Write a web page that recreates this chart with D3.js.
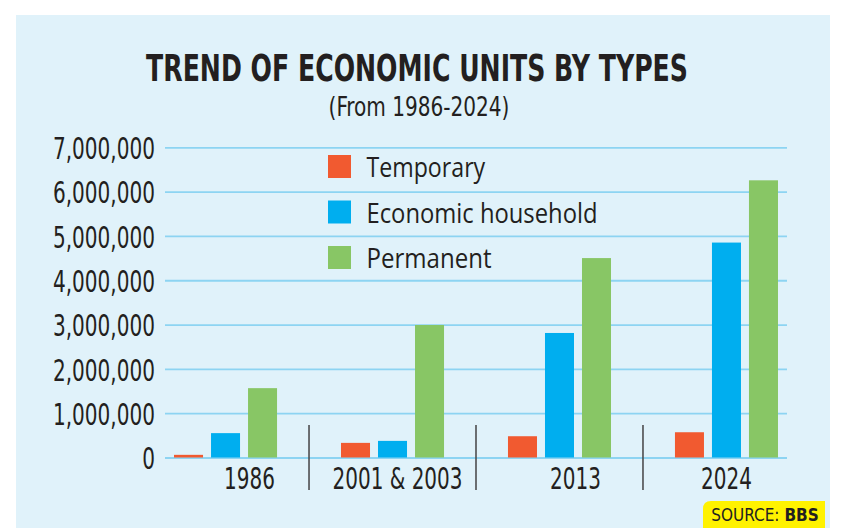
<!DOCTYPE html>
<html><head><meta charset="utf-8">
<script src="https://cdn.jsdelivr.net/npm/d3@7"></script>
<style>
html,body{margin:0;padding:0;background:#fff;}
svg{display:block;}
</style></head>
<body>
<svg id="chart" width="858" height="528"></svg>
<script>
// ---- data ----
const categories = ["1986", "2001 & 2003", "2013", "2024"];
const seriesNames = ["Temporary", "Economic household", "Permanent"];
const temporary = [60000, 330000, 480000, 570000];
const economicHousehold = [550000, 375000, 2810000, 4850000];
const permanent = [1565000, 2990000, 4500000, 6255000];
const yTicks = [0, 1000000, 2000000, 3000000, 4000000, 5000000, 6000000, 7000000];
const title = "TREND OF ECONOMIC UNITS BY TYPES";
const subtitle = "(From 1986-2024)";
const sourceLabel = "SOURCE: ";
const sourceName = "BBS";

// ---- style / layout ----
const colors = ["#f15a30", "#00aeef", "#88c665"];
const NARROW = "'Liberation Sans Narrow','DejaVu Sans Condensed','Roboto Condensed','Roboto',sans-serif";
const TXT = "#231f20";
const labelDx = [24, 5, 16, 0];

const svg = d3.select("#chart");
svg.append("rect").attr("x", 16).attr("y", 15).attr("width", 814).attr("height", 513).attr("fill", "#e0f2fa");

// condense a group of texts by a common factor so that the widest one reaches targetWidth
function condenseTo(sel, targetWidth) {
  let maxW = 0;
  sel.each(function () { maxW = Math.max(maxW, this.getComputedTextLength()); });
  const f = Math.min(1, targetWidth / maxW);
  sel.each(function () {
    const w = this.getComputedTextLength();
    d3.select(this).attr("textLength", w * f).attr("lengthAdjust", "spacingAndGlyphs");
  });
}
// fit a text to a width by shrinking its font and stretching it vertically back to the wanted size
function fitTall(sel, cx, baseY, size, targetWidth) {
  sel.attr("font-size", size);
  const w = sel.node().getComputedTextLength();
  const f = Math.min(1, targetWidth / w);
  sel.attr("font-size", size * f).attr("x", 0).attr("y", 0)
    .attr("transform", `translate(${cx},${baseY}) scale(1,${1 / f})`);
}

// title
svg.append("text").attr("text-anchor", "middle")
  .attr("font-family", NARROW).attr("font-weight", "bold")
  .attr("fill", TXT).text(title)
  .call(fitTall, 417, 81, 37, 542);
svg.append("text").attr("text-anchor", "middle")
  .attr("font-family", NARROW)
  .attr("fill", TXT).text(subtitle)
  .call(fitTall, 419, 116, 27, 181);

// scales
const x = d3.scaleBand().domain(categories).range([165, 787]).paddingInner(0.383).paddingOuter(0.054);
const xs = d3.scaleBand().domain(seriesNames).range([0, x.bandwidth()]).paddingInner(0.216).paddingOuter(0);
const y = d3.scaleLinear().domain([0, 7000000]).range([457.5, 147.3]);

// gridlines via axis
const grid = svg.append("g").attr("transform", "translate(165,0)")
  .call(d3.axisLeft(y).tickValues(yTicks).tickSize(-622).tickFormat(""));
grid.select(".domain").remove();
grid.selectAll(".tick line").attr("stroke", "#8dd4f2").attr("stroke-width", 1.8);

// y labels
const yAx = svg.append("g").attr("transform", "translate(155,0)")
  .call(d3.axisLeft(y).tickValues(yTicks).tickSize(0).tickPadding(0).tickFormat(d3.format(",")));
yAx.select(".domain").remove();
yAx.selectAll(".tick text").attr("font-family", NARROW).attr("font-size", 31).attr("fill", TXT)
  .attr("dy", "0.36em").call(condenseTo, 102);

// separators
const step = x.step(), gap = step * x.paddingInner();
svg.append("g").selectAll("line").data(categories.slice(1)).join("line")
  .attr("x1", d => x(d) - gap / 2).attr("x2", d => x(d) - gap / 2)
  .attr("y1", 425).attr("y2", 490).attr("stroke", "#4d4d4f").attr("stroke-width", 1.6);

// bars
const seriesVals = [temporary, economicHousehold, permanent];
const rows = categories.map((c, i) => ({ cat: c, vals: seriesNames.map((s, j) => ({ s, j, v: seriesVals[j][i] })) }));
svg.append("g").selectAll("g").data(rows).join("g")
  .attr("transform", d => `translate(${x(d.cat)},0)`)
  .selectAll("rect").data(d => d.vals).join("rect")
  .attr("x", d => xs(d.s)).attr("width", xs.bandwidth())
  .attr("y", d => y(d.v)).attr("height", d => y(0) - y(d.v))
  .attr("fill", d => colors[d.j]);

// category labels
svg.append("g").selectAll("text").data(categories).join("text")
  .attr("x", (d, i) => x(d) + x.bandwidth() / 2 + labelDx[i]).attr("y", 489)
  .attr("text-anchor", "middle").attr("font-family", NARROW).attr("font-size", 31).attr("fill", TXT)
  .text(d => d).call(condenseTo, 130);

// legend
const lg = svg.append("g").attr("transform", "translate(328,155)");
const li = lg.selectAll("g").data(seriesNames).join("g").attr("transform", (d, i) => `translate(0,${i * 45.5})`);
li.append("rect").attr("width", 23).attr("height", 23).attr("fill", (d, i) => colors[i]);
li.append("text").attr("x", 38.5).attr("y", 22).attr("font-family", "'Open Sans','Noto Sans',sans-serif")
  .attr("font-size", 28).attr("fill", TXT).text(d => d)
  .each(function (d, i) {
    d3.select(this).attr("textLength", [118.7, 231, 125][i]).attr("lengthAdjust", "spacingAndGlyphs");
  });

// source box
const sx0 = 703, sx1 = 825, sy0 = 501, sy1 = 528, r = 8;
svg.append("path").attr("d", `M${sx0},${sy1} V${sy0 + r} Q${sx0},${sy0} ${sx0 + r},${sy0} H${sx1} V${sy1} Z`).attr("fill", "#fff200");
const st = svg.append("text").attr("x", 765).attr("y", 521).attr("text-anchor", "middle")
  .attr("font-family", NARROW).attr("font-size", 17).attr("fill", TXT);
st.append("tspan").text(sourceLabel);
st.append("tspan").attr("font-weight", "bold").text(sourceName);
</script>
</body></html>
